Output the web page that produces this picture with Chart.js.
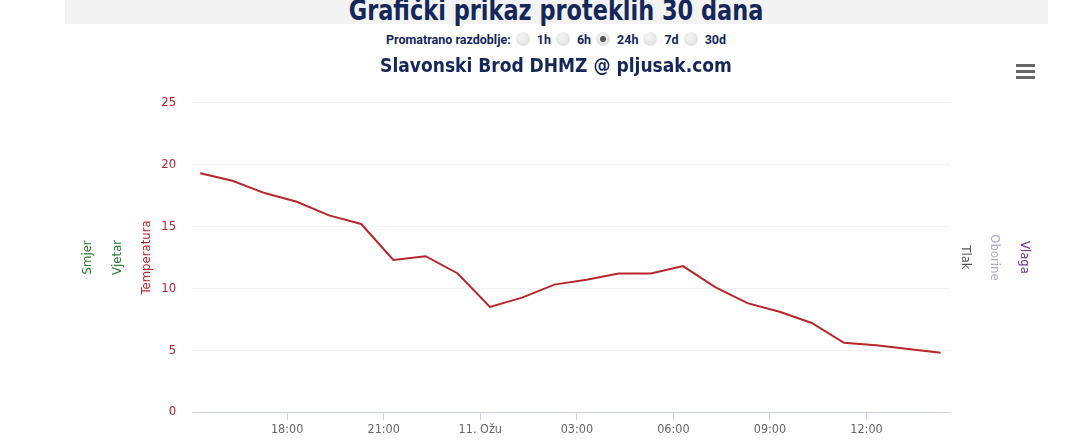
<!DOCTYPE html>
<html>
<head>
<meta charset="utf-8">
<title>Slavonski Brod DHMZ</title>
<script src="https://cdn.jsdelivr.net/npm/chart.js@4.4.1/dist/chart.umd.min.js"></script>
<style>
  html, body { margin: 0; padding: 0; background: #fff; width: 1080px; height: 448px; overflow: hidden; }
  .band { position: absolute; left: 65px; top: 0; width: 983px; height: 24px; background: #f3f3f3; }
  .page-title { position: absolute; left: 32px; width: 1048px; top: -7px; text-align: center; }
  .page-title span { display: inline-block; transform: scaleX(0.86);
    font: bold 29px "DejaVu Sans Condensed", sans-serif; color: #14275a; }
  .period { position: absolute; left: 32px; width: 1048px; top: 31px; height: 16px; display: flex;
    justify-content: center; align-items: center; font: bold 12.5px Roboto, sans-serif; color: #14275a; }
  .radio { width: 14px; height: 14px; border-radius: 50%; display: inline-block; position: relative;
    background: radial-gradient(circle at 40% 35%, #f6f6f6, #d8d8d8); margin: 0 7px 0 5px; }
  .radio.on::after { content: ''; position: absolute; left: 4px; top: 4px; width: 6px; height: 6px;
    border-radius: 50%; background: #555; }
  .menu { position: absolute; left: 1016px; top: 64px; width: 19px; }
  .menu i { display: block; height: 3px; background: #666; margin-bottom: 3px; }
  #wrap { position: absolute; left: 32px; top: 50px; width: 1048px; height: 398px; }
</style>
</head>
<body>
<div class="band"></div>
<div class="page-title"><span>Grafički prikaz proteklih 30 dana</span></div>
<div class="period">
  <span>Promatrano razdoblje:</span>
  <span class="radio"></span><span>1h</span>
  <span class="radio"></span><span>6h</span>
  <span class="radio on"></span><span>24h</span>
  <span class="radio"></span><span>7d</span>
  <span class="radio"></span><span>30d</span>
</div>
<div class="menu"><i></i><i></i><i></i></div>
<div id="wrap"><canvas id="meteoChart"></canvas></div>

<script>
// measurement times (10. -> 11. Ožu), hourly
const timeLabels = ['15:18', '16:18', '17:18', '18:18', '19:18', '20:18', '21:18', '22:18', '23:18',
  '00:18', '01:18', '02:18', '03:18', '04:18', '05:18', '06:18', '07:18', '08:18', '09:18',
  '10:18', '11:18', '12:18', '13:18', '14:18'];

// temperatura (°C)
const temperature = [19.3, 18.7, 17.7, 17.0, 15.9, 15.2, 12.3, 12.6, 11.2,
  8.5, 9.25, 10.3, 10.7, 11.2, 11.2, 11.8, 10.1, 8.8, 8.1,
  7.2, 5.6, 5.4, 5.1, 4.8];

// x tick positions in hours from midnight of 11th
const tickHours = [-6, -3, 0, 3, 6, 9, 12];
const dayLabel = '11. Ožu';

const FONT = '"DejaVu Sans Condensed", sans-serif';
const RED = '#b8262b';

// convert HH:MM to hours relative to midnight (previous day negative)
function toHours(labels) {
  let dayOffset = -24;
  let prev = -1;
  return labels.map(t => {
    const [hh, mm] = t.split(':').map(Number);
    const h = hh + mm / 60;
    if (h < prev) dayOffset = 0;
    prev = h;
    return h + dayOffset;
  });
}

const hours = toHours(timeLabels);
const points = hours.map((h, i) => ({ x: h, y: temperature[i] }));

// axis that only shows its title (no data)
function titleAxis(position, weight, text, color) {
  return {
    type: 'linear',
    position: position,
    weight: weight,
    min: 0,
    max: 1,
    ticks: { display: false },
    grid: { display: false, drawTicks: false },
    border: { display: false },
    title: {
      display: true,
      text: text,
      color: color,
      font: { family: FONT, size: 13 },
      padding: { top: 7, bottom: 7 }
    }
  };
}

new Chart(document.getElementById('meteoChart'), {
  type: 'line',
  data: {
    datasets: [{
      label: 'Temperatura',
      data: points,
      yAxisID: 'y',
      borderColor: RED,
      borderWidth: 2,
      pointRadius: 0,
      tension: 0,
      fill: false
    }]
  },
  options: {
    responsive: true,
    maintainAspectRatio: false,
    animation: false,
    layout: { padding: { left: 41, right: 41, top: 0, bottom: 9 } },
    plugins: {
      legend: { display: false },
      tooltip: { enabled: false },
      title: {
        display: true,
        text: 'Slavonski Brod DHMZ @ pljusak.com',
        color: '#14275a',
        font: { family: FONT, size: 19, weight: 'bold' },
        padding: { top: 6, bottom: 24 }
      }
    },
    scales: {
      x: {
        type: 'linear',
        min: -8.95,
        max: 14.6,
        afterBuildTicks: scale => { scale.ticks = tickHours.map(v => ({ value: v })); },
        grid: { drawOnChartArea: false, drawTicks: true, tickLength: 8, color: '#ccd6eb' },
        border: { display: true, color: '#ccd6eb', width: 1 },
        ticks: {
          color: '#666',
          padding: 2,
          maxRotation: 0,
          font: { family: FONT, size: 12.5 },
          callback: v => {
            if (v === 0) return dayLabel;
            const h = ((v % 24) + 24) % 24;
            return String(h).padStart(2, '0') + ':00';
          }
        }
      },
      y: {
        type: 'linear',
        position: 'left',
        weight: 0,
        min: 0,
        max: 25,
        afterFit: scale => { scale.width = 60; },
        ticks: { stepSize: 5, color: RED, padding: 16, font: { family: FONT, size: 13 } },
        grid: { color: '#f2f2f2', drawTicks: false },
        border: { display: false },
        title: {
          display: true,
          text: 'Temperatura',
          color: RED,
          font: { family: FONT, size: 13 },
          padding: { top: 7, bottom: 7 }
        }
      },
      yVjetar: titleAxis('left', 1, 'Vjetar', '#2f7a32'),
      ySmjer: titleAxis('left', 2, 'Smjer', '#2f7a32'),
      yTlak: titleAxis('right', 0, 'Tlak', '#555555'),
      yOborine: titleAxis('right', 1, 'Oborine', '#a9a9c9'),
      yVlaga: titleAxis('right', 2, 'Vlaga', '#6b2d8e')
    }
  }
});
</script>
</body>
</html>
